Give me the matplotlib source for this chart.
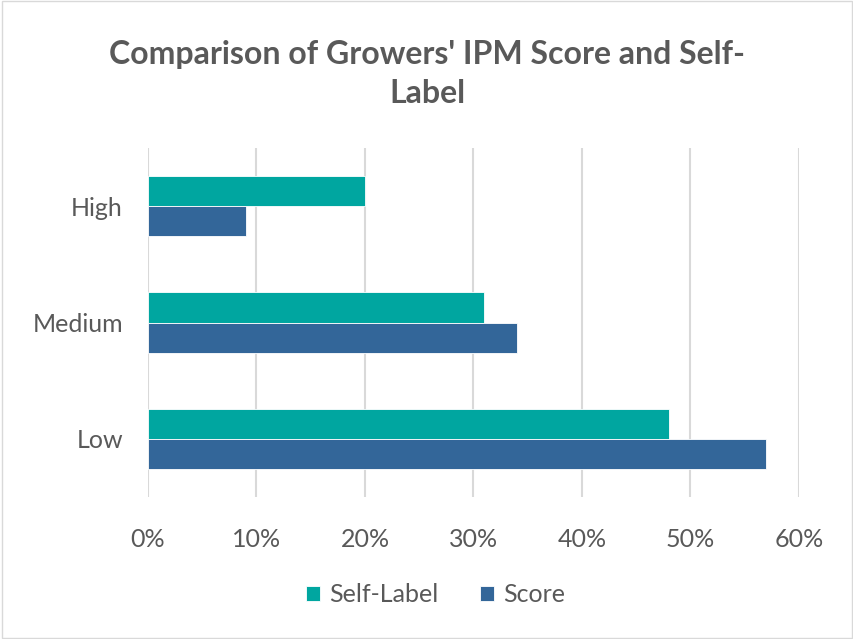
import matplotlib
matplotlib.use("Agg")
import matplotlib.pyplot as plt
from matplotlib.ticker import PercentFormatter, MultipleLocator
from matplotlib.patches import Rectangle
import numpy as np

categories = ["Low", "Medium", "High"]
self_label = [48, 31, 20]
score = [57, 34, 9]
series_names = ["Self-Label", "Score"]
colors = ["#00A6A0", "#336699"]
title = "Comparison of Growers' IPM Score and Self-\nLabel"

plt.rcParams['font.family'] = ['Lato', 'DejaVu Sans']
txt = "#595959"

fig = plt.figure(figsize=(8.54, 6.39), dpi=100)
ax = fig.add_axes([148/854, 1-497/639, (799-148)/854, 349/639])

y = np.arange(len(categories))
h = 0.26
ax.barh(y + h/2, self_label, height=h, color=colors[0], edgecolor="white", linewidth=0.6, label=series_names[0], zorder=3)
ax.barh(y - h/2, score, height=h, color=colors[1], edgecolor="white", linewidth=0.6, label=series_names[1], zorder=3)

ax.set_xlim(0, 60)
ax.set_ylim(-0.5, 2.5)
ax.xaxis.set_major_locator(MultipleLocator(10))
ax.xaxis.set_major_formatter(PercentFormatter(decimals=0))
ax.set_yticks(y)
ax.set_yticklabels(categories)
for s in ax.spines.values():
    s.set_visible(False)
ax.grid(axis="x", color="#D9D9D9", linewidth=1.5, zorder=0)
ax.tick_params(length=0, labelsize=18, colors=txt)
ax.tick_params(axis="y", pad=18)
ax.tick_params(axis="x", pad=22)

fig.text(0.5, 1-74/639, title, ha="center", va="center", fontsize=23, fontweight="bold", color=txt, linespacing=1.45)

leg = fig.legend(loc="center", bbox_to_anchor=(0.51, 1-595/639), ncol=2, frameon=False,
                 fontsize=18, handlelength=0.55, handleheight=0.55, handletextpad=0.35, columnspacing=1.7)
for t in leg.get_texts():
    t.set_color(txt)

fig.patches.append(Rectangle((0.002, 0.002), 0.996, 0.996, transform=fig.transFigure,
                             fill=False, edgecolor="#D9D9D9", linewidth=1))

fig.savefig("out.png", dpi=100)
